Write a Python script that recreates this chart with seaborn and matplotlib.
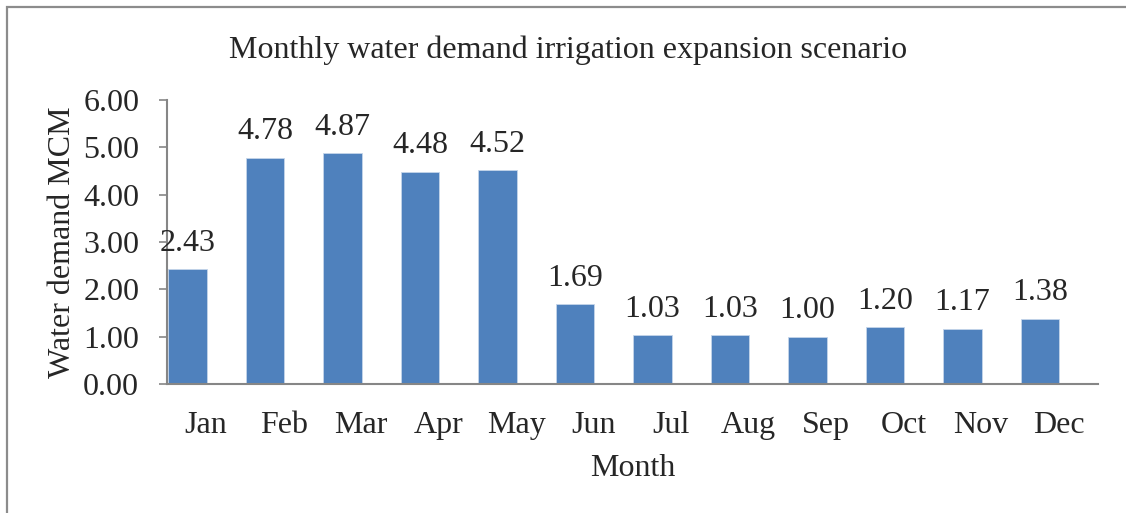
import matplotlib
matplotlib.use("Agg")
import matplotlib.pyplot as plt
import seaborn as sns
import pandas as pd
from matplotlib.patches import Rectangle

months = ["Jan", "Feb", "Mar", "Apr", "May", "Jun", "Jul", "Aug", "Sep", "Oct", "Nov", "Dec"]
demand = [2.43, 4.78, 4.87, 4.48, 4.52, 1.69, 1.03, 1.03, 1.00, 1.20, 1.17, 1.38]
yticks = [0, 1, 2, 3, 4, 5, 6]

sns.set_style("white")
plt.rcParams['font.family'] = ['Liberation Serif', 'DejaVu Serif']
FS = 23

df = pd.DataFrame({"Month": months, "Demand": demand})

W, H = 1126, 513
fig = plt.figure(figsize=(W / 100, H / 100), dpi=100)
x0, x1, y0, y1 = 167, 1098, 100, 384
ax = fig.add_axes([x0 / W, 1 - y1 / H, (x1 - x0) / W, (y1 - y0) / H])
sns.barplot(data=df, x="Month", y="Demand", color="#4F81BD", saturation=1,
            width=0.5, ax=ax, edgecolor="#C5D5EA", linewidth=0.6)

ax.set_ylim(0, 6)
ax.set_xlim(-0.265, 11.75)
ax.set_yticks(yticks)
ax.set_yticklabels([f"{v:.2f}" for v in yticks], fontsize=FS)
ax.set_xticks([i + 0.24 for i in range(len(months))])
ax.set_xticklabels(months, fontsize=FS)
ax.tick_params(axis='y', length=6, width=1.2, color='#868686', direction='out', pad=14, left=True)
ax.tick_params(axis='x', length=0, pad=19.5)
for s in ["top", "right"]:
    ax.spines[s].set_visible(False)
for s in ["left", "bottom"]:
    ax.spines[s].set_color('#868686')
    ax.spines[s].set_linewidth(1.5)

for i, v in enumerate(demand):
    ax.annotate(f"{v:.2f}", (i, v), xytext=(0, 13.3), textcoords='offset points',
                ha='center', va='baseline', fontsize=FS)

ax.set_xlabel("Month", fontsize=FS, labelpad=10)
ax.set_ylabel("Water demand MCM", fontsize=FS)
ax.yaxis.set_label_coords(-0.0967, 0.5)
fig.text(568 / W, 1 - 58 / H, "Monthly water demand irrigation expansion scenario",
         ha='center', va='baseline', fontsize=FS)

fig.patches.append(Rectangle((7 / W, -0.1), 1.2, 1.1 - 7.5 / H,
                             transform=fig.transFigure, fill=False,
                             edgecolor='#8C8C8C', linewidth=1.6))

fig.savefig("out.png", dpi=100)
